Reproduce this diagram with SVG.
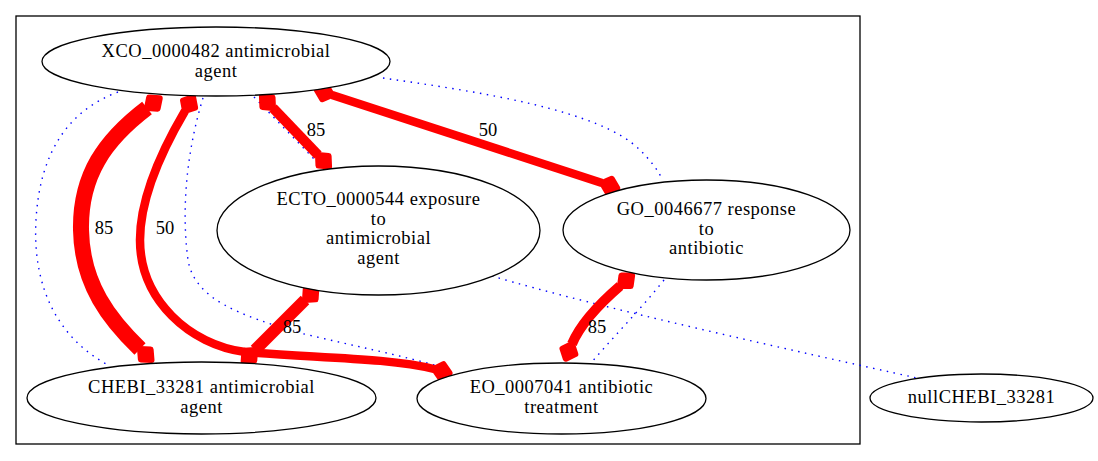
<svg xmlns="http://www.w3.org/2000/svg" width="1098" height="461" viewBox="0 0 1098 461">
<style>
  .node ellipse { fill: #ffffff; stroke: #000000; stroke-width: 1.3; }
  text { font-family: "Liberation Serif", "Times New Roman", serif; font-size: 18.5px; fill: #000000; text-anchor: middle; letter-spacing: 0.5px; }
  .lbl { letter-spacing: 0; }
  .red { fill: none; stroke: #ff0000; stroke-linecap: butt; marker-start: url(#dS); marker-end: url(#dE); }
  .dot { fill: none; stroke: #0000ff; stroke-width: 1.4; stroke-dasharray: 1.5 5.5; }
  .cluster { fill: none; stroke: #000000; stroke-width: 1.3; }
</style>
<defs>
  <marker id="dE" markerUnits="userSpaceOnUse" viewBox="-5 -12 30 24" markerWidth="30" markerHeight="24" refX="0" refY="0" orient="auto">
    <path d="M0,0 L8,-7 L16,0 L8,7 Z" fill="#ff0000" stroke="#ff0000" stroke-width="6" stroke-linejoin="round"/>
  </marker>
  <marker id="dS" markerUnits="userSpaceOnUse" viewBox="-5 -12 30 24" markerWidth="30" markerHeight="24" refX="0" refY="0" orient="auto-start-reverse">
    <path d="M0,0 L8,-7 L16,0 L8,7 Z" fill="#ff0000" stroke="#ff0000" stroke-width="6" stroke-linejoin="round"/>
  </marker>
</defs>
<rect width="1098" height="461" fill="#ffffff"/>
<rect id="cluster" class="cluster" x="16" y="16" width="844" height="428"/>

<g id="connectors">
  <path class="dot" d="M118,92 C70,110 40,150 36,220 C32,290 60,340 110,366"/>
  <path class="dot" d="M203,98 C190,140 180,200 188,260 C195,300 240,315 300,333 C350,345 400,355 445,368"/>
  <path class="dot" d="M254,97 L317,162"/>
  <path class="dot" d="M383,78 C480,92 600,110 640,150 C650,160 658,170 662,179"/>
  <path class="dot" d="M492,276 C600,308 800,352 917,378"/>
  <path class="dot" d="M664,280 C640,310 615,335 591,363"/>

  <path class="red" stroke-width="16" d="M147,108 C105,140 80,175 81,230 C82,285 110,320 140,349"/>
  <path class="red" stroke-width="8.5" d="M185,111 C165,145 140,195 140,240 C140,300 190,345 245,352 C320,358 390,358 434,369"/>
  <path class="red" stroke-width="10" d="M273,108 L318,155"/>
  <path class="red" stroke-width="8.5" d="M332,95 L602,183"/>
  <path class="red" stroke-width="12" d="M305,300 L255,350"/>
  <path class="red" stroke-width="10" d="M620,286 C598,305 580,325 572,344"/>

  <text class="lbl" x="104" y="234">85</text>
  <text class="lbl" x="165" y="234">50</text>
  <text class="lbl" x="316" y="136">85</text>
  <text class="lbl" x="488" y="136">50</text>
  <text class="lbl" x="292" y="333">85</text>
  <text class="lbl" x="597" y="333">85</text>
</g>

<g id="XCO_0000482" class="node">
  <ellipse cx="216" cy="61.5" rx="174" ry="34.5"/>
  <text x="216" y="57">XCO_0000482 antimicrobial</text>
  <text x="216" y="77">agent</text>
</g>
<g id="ECTO_0000544" class="node">
  <ellipse cx="378.5" cy="230.5" rx="161.5" ry="64.5"/>
  <text x="378.5" y="205">ECTO_0000544 exposure</text>
  <text x="378.5" y="224.5">to</text>
  <text x="378.5" y="244">antimicrobial</text>
  <text x="378.5" y="263.5">agent</text>
</g>
<g id="GO_0046677" class="node">
  <ellipse cx="706.5" cy="230" rx="143.5" ry="50"/>
  <text x="706.5" y="215">GO_0046677 response</text>
  <text x="706.5" y="234.5">to</text>
  <text x="706.5" y="254">antibiotic</text>
</g>
<g id="CHEBI_33281" class="node">
  <ellipse cx="201.5" cy="398" rx="174.5" ry="36"/>
  <text x="201.5" y="393">CHEBI_33281 antimicrobial</text>
  <text x="201.5" y="412.5">agent</text>
</g>
<g id="EO_0007041" class="node">
  <ellipse cx="561.5" cy="398.5" rx="144.5" ry="35.5"/>
  <text x="561.5" y="393">EO_0007041 antibiotic</text>
  <text x="561.5" y="412.5">treatment</text>
</g>
<g id="nullCHEBI_33281" class="node">
  <ellipse cx="981.5" cy="398" rx="111.5" ry="24"/>
  <text x="981.5" y="403">nullCHEBI_33281</text>
</g>
</svg>
